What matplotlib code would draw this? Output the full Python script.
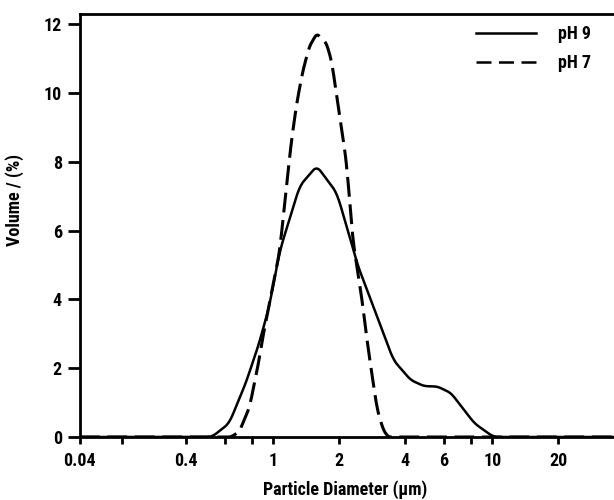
import numpy as np
import matplotlib
matplotlib.use("Agg")
import matplotlib.pyplot as plt
from matplotlib import font_manager
from matplotlib.lines import Line2D

# pick a narrow bold sans if one is around
available = set(f.name for f in font_manager.fontManager.ttflist)
for fam in ['Liberation Sans Narrow', 'Roboto Condensed', 'Archivo Narrow',
            'PT Sans Narrow', 'Pragati Narrow', 'DejaVu Sans Condensed']:
    if fam in available:
        break
else:
    fam = 'DejaVu Sans'
plt.rcParams['font.family'] = [fam, 'DejaVu Sans']
plt.rcParams['font.weight'] = 'bold'

# pH 9 (solid)
ph9_d = [0.04, 0.5, 0.53, 0.63, 0.75, 0.86, 0.96, 1.07, 1.32, 1.58, 1.95, 2.31, 2.41,
         2.98, 3.53, 4.23, 4.86, 5.6, 6.47, 7.43, 8.27, 9.6, 10.2, 40]
ph9_v = [0, 0, 0.02, 0.4, 1.57, 2.7, 3.8, 5.4, 7.3, 7.88, 7.1, 5.5, 5.05,
         3.5, 2.24, 1.66, 1.48, 1.47, 1.28, 0.78, 0.4, 0.1, 0, 0]

# pH 7 (dashed)
ph7_d = [0.04, 0.64, 0.7, 0.78, 0.86, 0.89, 1.07, 1.15, 1.21, 1.28, 1.36, 1.46, 1.58,
         1.75, 1.85, 1.95, 2.06, 2.17, 2.24, 2.31, 2.54, 2.68, 2.83, 2.98, 3.18, 3.35, 40]
ph7_v = [0, 0, 0.15, 0.87, 2.2, 2.8, 5.4, 7.3, 8.6, 9.7, 10.6, 11.35, 11.73,
         11.45, 10.9, 9.9, 8.9, 7.85, 6.7, 5.7, 4.0, 2.8, 1.75, 0.8, 0.2, 0, 0]

x_ticks = [0.04, 0.4, 1, 2, 4, 6, 10, 20]
x_labels = ["0.04", "0.4", "1", "2", "4", "6", "10", "20"]
x_minor = [0.1, 0.6, 0.8, 8]
y_ticks = [0, 2, 4, 6, 8, 10, 12]

# axis is log, but squeezed below 0.4
K = 0.484
L4 = np.log10(0.4)


def fwd(x):
    x = np.asarray(x, dtype=float)
    lx = np.log10(np.clip(x, 1e-6, None))
    return np.where(lx < L4, L4 + K * (lx - L4), lx)


def inv(u):
    u = np.asarray(u, dtype=float)
    return np.where(u < L4, 10 ** (L4 + (u - L4) / K), 10 ** u)


def smooth(d, v, n=600, w=7):
    u = fwd(d)
    uu = np.linspace(u.min(), u.max(), n)
    vv = np.interp(uu, u, v)
    k = np.ones(w) / w
    vs = np.convolve(np.pad(vv, w // 2, mode='edge'), k, mode='valid')
    return inv(uu), np.clip(vs, 0, None)


fig = plt.figure(figsize=(6.14, 5), dpi=100)
ax = fig.add_axes([0.130, 0.126, 0.95, 0.846])
ax.set_xscale('function', functions=(fwd, inv))

x9, y9 = smooth(ph9_d, ph9_v, w=9)
x7, y7 = smooth(ph7_d, ph7_v, w=5)
ax.plot(x9, y9, color='black', lw=1.8)
ax.plot(x7, y7, color='black', lw=2.2, dashes=(6.5, 2.5))

ax.set_xlim(0.04, 60)
ax.set_ylim(0, 12.3)

ax.set_xticks(x_ticks)
ax.set_xticklabels(x_labels)
ax.set_xticks(x_minor, minor=True)
ax.set_yticks(y_ticks)

for s in ['left', 'bottom', 'top']:
    ax.spines[s].set_linewidth(2)
ax.spines['right'].set_visible(False)

ax.tick_params(axis='y', direction='out', length=9, width=2, labelsize=13, pad=4)
ax.tick_params(axis='x', which='both', direction='out', length=5, width=2, labelsize=13, pad=6)
ax.tick_params(axis='x', which='minor', labelbottom=False)

ax.set_xlabel("Particle Diameter (µm)", fontsize=13, fontweight='bold')
ax.xaxis.set_label_coords(0.455, -0.102)
ax.set_ylabel("Volume / (%)", fontsize=13, fontweight='bold')
ax.yaxis.set_label_coords(-0.095, 0.56)

handles = [Line2D([], [], color='black', lw=1.8),
           Line2D([], [], color='black', lw=1.8, dashes=(6, 3))]
leg = ax.legend(handles, ["pH 9", "pH 7"], loc='upper left', bbox_to_anchor=(0.652, 1.012),
                frameon=False, fontsize=13, handlelength=3.3, handletextpad=1.2,
                labelspacing=0.6)

fig.savefig("out.png", dpi=100)
